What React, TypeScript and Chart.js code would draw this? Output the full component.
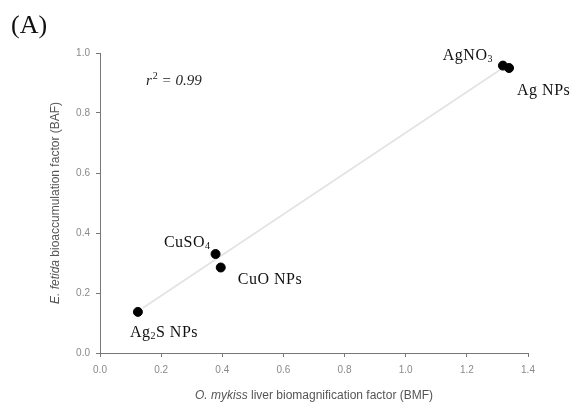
import React, { useEffect, useRef } from "react";
import { Chart, registerables } from "chart.js";

Chart.register(...registerables);

// ---- data ----
const compounds = ["Ag₂S NPs", "CuSO₄", "CuO NPs", "AgNO₃", "Ag NPs"];
const bmf = [0.124, 0.378, 0.395, 1.318, 1.338];
const baf = [0.137, 0.33, 0.285, 0.958, 0.95];
const fitX = [0.14, 1.31];
const fitY = [0.15, 0.945];
const xTicks = [0, 0.2, 0.4, 0.6, 0.8, 1.0, 1.2, 1.4];
const yTicks = [0, 0.2, 0.4, 0.6, 0.8, 1.0];
const rSquared = "0.99";

// label placement (style only)
const labelPlacement: { dx: number; dy: number; align: CanvasTextAlign }[] = [
  { dx: -8, dy: 21, align: "left" },
  { dx: -5, dy: -11, align: "right" },
  { dx: 17, dy: 12, align: "left" },
  { dx: -10, dy: -10, align: "right" },
  { dx: 8, dy: 23, align: "left" },
];

const SUBS: Record<string, string> = { "₂": "2", "₃": "3", "₄": "4" };

function measureRich(ctx: CanvasRenderingContext2D, text: string, size: number, family: string) {
  let w = 0;
  for (const ch of text) {
    if (SUBS[ch]) {
      ctx.font = `${Math.round(size * 0.65)}px ${family}`;
      w += ctx.measureText(SUBS[ch]).width;
    } else {
      ctx.font = `${size}px ${family}`;
      w += ctx.measureText(ch).width;
    }
  }
  return w;
}

function drawRich(ctx: CanvasRenderingContext2D, text: string, x: number, y: number, size: number, family: string) {
  let cx = x;
  for (const ch of text) {
    if (SUBS[ch]) {
      ctx.font = `${Math.round(size * 0.65)}px ${family}`;
      ctx.fillText(SUBS[ch], cx, y + size * 0.22);
      cx += ctx.measureText(SUBS[ch]).width;
    } else {
      ctx.font = `${size}px ${family}`;
      ctx.fillText(ch, cx, y);
      cx += ctx.measureText(ch).width;
    }
  }
}

const annotPlugin = {
  id: "annot",
  afterDraw(chart: any) {
    const ctx: CanvasRenderingContext2D = chart.ctx;
    const xs = chart.scales.x;
    const ys = chart.scales.y;
    const serif = "'Liberation Serif', 'Times New Roman', serif";
    const sans = "'Liberation Sans', Arial, sans-serif";
    ctx.save();
    // point labels
    ctx.fillStyle = "#111";
    ctx.textBaseline = "middle";
    ctx.textAlign = "left";
    (ctx as any).letterSpacing = "0.5px";
    const size = 16;
    compounds.forEach((name, i) => {
      const px = xs.getPixelForValue(bmf[i]);
      const py = ys.getPixelForValue(baf[i]);
      const p = labelPlacement[i];
      const w = measureRich(ctx, name, size, serif);
      let x = px + p.dx;
      if (p.align === "right") x -= w;
      drawRich(ctx, name, x, py + p.dy, size, serif);
    });
    (ctx as any).letterSpacing = "0px";

    // r^2 text
    ctx.fillStyle = "#222";
    ctx.textBaseline = "middle";
    let rx = 146;
    const ry = 81;
    ctx.font = `italic 15px ${serif}`;
    ctx.fillText("r", rx, ry);
    rx += ctx.measureText("r").width + 1;
    ctx.font = `10px ${serif}`;
    ctx.fillText("2", rx, ry - 5);
    rx += ctx.measureText("2").width;
    ctx.font = `italic 15px ${serif}`;
    ctx.fillText(" = " + rSquared, rx, ry);

    // panel label
    ctx.font = `26px ${serif}`;
    ctx.fillStyle = "#111";
    ctx.textBaseline = "alphabetic";
    ctx.fillText("(A)", 11, 33);

    // x axis title
    ctx.fillStyle = "#555";
    ctx.textBaseline = "middle";
    const p1 = "O. mykiss";
    const p2 = " liver biomagnification factor (BMF)";
    ctx.font = `italic 12px ${sans}`;
    const w1 = ctx.measureText(p1).width;
    ctx.font = `12px ${sans}`;
    const w2 = ctx.measureText(p2).width;
    const cxT = (xs.left + xs.right) / 2;
    let tx = cxT - (w1 + w2) / 2;
    ctx.font = `italic 12px ${sans}`;
    ctx.fillText(p1, tx, 396);
    ctx.font = `12px ${sans}`;
    ctx.fillText(p2, tx + w1, 396);

    // y axis title
    const q1 = "E. fetida";
    const q2 = " bioaccumulation factor (BAF)";
    ctx.font = `italic 12px ${sans}`;
    const v1 = ctx.measureText(q1).width;
    ctx.font = `12px ${sans}`;
    const v2 = ctx.measureText(q2).width;
    ctx.translate(56, (ys.top + ys.bottom) / 2);
    ctx.rotate(-Math.PI / 2);
    let ty = -(v1 + v2) / 2;
    ctx.font = `italic 12px ${sans}`;
    ctx.fillText(q1, ty, 0);
    ctx.font = `12px ${sans}`;
    ctx.fillText(q2, ty + v1, 0);
    ctx.restore();
  },
};

export default function App() {
  const ref = useRef<HTMLCanvasElement | null>(null);
  useEffect(() => {
    document.body.style.margin = "0";
    const canvas = ref.current!;
    const chart = new Chart(canvas, {
      type: "scatter",
      data: {
        datasets: [
          {
            label: "compounds",
            data: bmf.map((v, i) => ({ x: v, y: baf[i] })),
            backgroundColor: "#000",
            borderColor: "#000",
            pointRadius: 4.5,
            pointHoverRadius: 4.5,
            order: 0,
          },
          {
            label: "fit",
            type: "line" as any,
            data: fitX.map((v, i) => ({ x: v, y: fitY[i] })),
            borderColor: "#e4e4e4",
            borderWidth: 2,
            pointRadius: 0,
            showLine: true,
            fill: false,
            order: 1,
          } as any,
        ],
      },
      options: {
        responsive: false,
        animation: false,
        events: [],
        layout: { padding: { top: 53, right: 49, left: 0, bottom: 0 } },
        plugins: { legend: { display: false }, tooltip: { enabled: false } },
        scales: {
          x: {
            type: "linear",
            min: 0,
            max: 1.4,
            afterBuildTicks: (s: any) => {
              s.ticks = xTicks.map((v) => ({ value: v }));
            },
            afterFit: (s: any) => {
              s.height = 56;
            },
            ticks: {
              color: "#8a8a8a",
              font: { family: "'Liberation Sans', Arial, sans-serif", size: 10 },
              padding: 7,
              maxRotation: 0,
              callback: (v: any) => Number(v).toFixed(1),
            },
            grid: { display: true, drawOnChartArea: false, drawTicks: true, tickLength: 4, color: "#777" },
            border: { display: true, color: "#777", width: 1 },
          },
          y: {
            type: "linear",
            min: 0,
            max: 1.0,
            afterBuildTicks: (s: any) => {
              s.ticks = yTicks.map((v) => ({ value: v }));
            },
            afterFit: (s: any) => {
              s.width = 100;
            },
            ticks: {
              color: "#8a8a8a",
              font: { family: "'Liberation Sans', Arial, sans-serif", size: 10 },
              padding: 6,
              callback: (v: any) => Number(v).toFixed(1),
            },
            grid: { display: true, drawOnChartArea: false, drawTicks: true, tickLength: 4, color: "#777" },
            border: { display: true, color: "#777", width: 1 },
          },
        },
      },
      plugins: [annotPlugin],
    });
    return () => chart.destroy();
  }, []);
  return (
    <div style={{ position: "absolute", left: 0, top: 0, width: 577, height: 409, background: "#fff" }}>
      <canvas ref={ref} width={577} height={409} style={{ width: 577, height: 409 }} />
    </div>
  );
}
